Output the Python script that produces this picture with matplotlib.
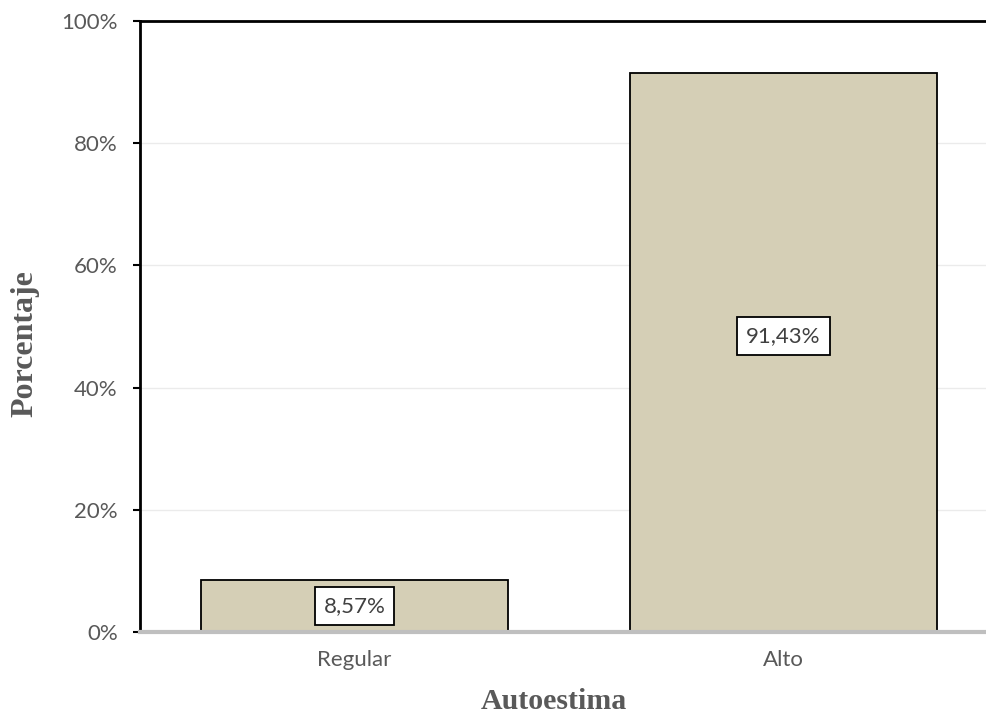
import matplotlib
matplotlib.use("Agg")
import matplotlib.pyplot as plt
from matplotlib.ticker import FuncFormatter

categories = ["Regular", "Alto"]
values = [8.57, 91.43]
labels = ["8,57%", "91,43%"]
yticks = [0, 20, 40, 60, 80, 100]
label_offsets_pt = [0, 12]

fig = plt.figure(figsize=(9.87, 7.18), dpi=100)
ax = fig.add_axes([140/987, 86/718, 1 - 140/987, (632-21)/718])

x = list(range(len(categories)))
ax.bar(x, values, width=0.716, color="#D5CFB6", edgecolor="black", linewidth=1.3, zorder=3)

for xi, v, lab, off in zip(x, values, labels, label_offsets_pt):
    ax.annotate(lab, xy=(xi, v / 2), xytext=(0, off), textcoords="offset points",
                ha="center", va="center", fontsize=16, color="#404040",
                family=["Lato", "DejaVu Sans"], zorder=4,
                bbox=dict(boxstyle="square,pad=0.4", facecolor="white", edgecolor="black", linewidth=1.3))

ax.set_xlim(-0.5, 1.474)
ax.set_ylim(0, 100)
ax.set_yticks(yticks)
ax.yaxis.set_major_formatter(FuncFormatter(lambda v, p: f"{v:.0f}%"))
ax.set_xticks(x)
ax.set_xticklabels(categories)
ax.grid(axis="y", color="#EBEBEB", linewidth=1, zorder=0)

for lbl in ax.get_xticklabels() + ax.get_yticklabels():
    lbl.set_family(["Lato", "DejaVu Sans"])
    lbl.set_fontsize(16)
    lbl.set_color("#595959")

ax.tick_params(axis="x", length=0, pad=13)
ax.tick_params(axis="y", length=5, width=1.5, color="black", pad=11)

ax.spines["right"].set_visible(False)
ax.spines["left"].set_linewidth(2)
ax.spines["left"].set_color("black")
ax.spines["top"].set_linewidth(2)
ax.spines["top"].set_color("black")
ax.spines["bottom"].set_linewidth(3)
ax.spines["bottom"].set_color("#BFBFBF")
ax.spines["bottom"].set_zorder(5)

ax.set_xlabel("Autoestima", family="Liberation Serif", fontsize=21.5, fontweight="bold",
              color="#595959")
ax.xaxis.set_label_coords((554 - 140) / 847, -(688 - 632) / 611)
ax.set_ylabel("Porcentaje", family="Liberation Serif", fontsize=23, fontweight="bold",
              color="#595959")
ax.yaxis.set_label_coords(-(140 - 39) / 847, (632 - 344) / 611)

fig.savefig("out.png", dpi=100)
